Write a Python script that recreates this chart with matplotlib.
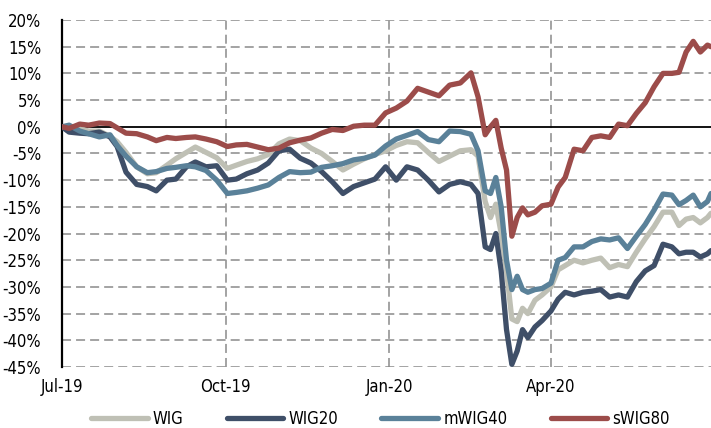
import pandas as pd
import matplotlib
matplotlib.use('Agg')
import matplotlib.pyplot as plt
import matplotlib.dates as mdates
from matplotlib import font_manager

# Font: narrow face if installed, else DejaVu condensed
names = {f.name for f in font_manager.fontManager.ttflist}
if 'Liberation Sans Narrow' in names:
    plt.rcParams['font.family'] = ['Liberation Sans Narrow', 'DejaVu Sans']
    stretch = 'normal'
else:
    plt.rcParams['font.family'] = ['DejaVu Sans']
    stretch = 'condensed'
plt.rcParams['font.stretch'] = stretch

# Data (cumulative return, %)
dates = pd.to_datetime([
    '2019-07-01', '2019-07-05', '2019-07-11', '2019-07-16', '2019-07-22', '2019-07-28',
    '2019-08-01', '2019-08-06', '2019-08-12', '2019-08-18', '2019-08-23', '2019-08-29',
    '2019-09-03', '2019-09-09', '2019-09-14', '2019-09-20', '2019-09-26', '2019-10-02',
    '2019-10-07', '2019-10-13', '2019-10-19', '2019-10-25', '2019-10-31', '2019-11-06',
    '2019-11-12', '2019-11-18', '2019-11-24', '2019-11-30', '2019-12-06', '2019-12-12',
    '2019-12-18', '2019-12-24', '2019-12-30', '2020-01-05', '2020-01-11', '2020-01-17',
    '2020-01-23', '2020-01-29', '2020-02-04', '2020-02-10', '2020-02-16', '2020-02-20',
    '2020-02-24', '2020-02-27', '2020-03-01', '2020-03-04', '2020-03-07', '2020-03-10',
    '2020-03-13', '2020-03-16', '2020-03-19', '2020-03-23', '2020-03-27', '2020-04-01',
    '2020-04-05', '2020-04-09', '2020-04-14', '2020-04-19', '2020-04-24', '2020-04-29',
    '2020-05-04', '2020-05-09', '2020-05-14', '2020-05-19', '2020-05-24', '2020-05-29',
    '2020-06-03', '2020-06-08', '2020-06-12', '2020-06-16', '2020-06-20', '2020-06-24',
    '2020-06-28', '2020-06-30',
])

wig = [
    0, -0.5, -0.3, -0.8, -0.8, -1.8,
    -2.8, -4.8, -7.5, -8.8, -8.6, -7.2,
    -6.0, -4.8, -3.8, -4.8, -5.8, -7.8,
    -7.2, -6.5, -6.0, -5.2, -3.2, -2.3,
    -2.6, -4.0, -5.0, -6.5, -8.1, -7.0,
    -6.0, -5.2, -4.5, -3.5, -2.8, -3.0,
    -4.8, -6.5, -5.5, -4.5, -4.3, -5.5,
    -14.0, -17.0, -14.5, -20.0, -27.0, -36.0,
    -36.5, -34.0, -35.0, -32.5, -31.5, -30.0,
    -26.8, -26.0, -25.0, -25.5, -25.0, -24.6,
    -26.4, -25.8, -26.2, -23.5, -21.0, -18.7,
    -16.0, -16.0, -18.5, -17.3, -17.0, -18.0,
    -17.0, -16.2,
]

wig20 = [
    0, -1.0, -1.2, -1.3, -1.0, -1.9,
    -3.7, -8.5, -10.8, -11.2, -12.0, -10.0,
    -9.8, -7.5, -6.6, -7.5, -7.3, -10.0,
    -9.8, -8.8, -8.1, -6.8, -4.5, -4.2,
    -5.9, -6.8, -8.4, -10.3, -12.5, -11.2,
    -10.5, -9.8, -7.5, -10.0, -7.5, -8.1,
    -10.0, -12.2, -10.8, -10.3, -10.8, -12.5,
    -22.5, -23.0, -20.0, -27.0, -38.0, -44.5,
    -42.0, -38.0, -39.5, -37.5, -36.3, -34.5,
    -32.3, -31.0, -31.5, -31.0, -30.8, -30.5,
    -31.9, -31.5, -31.9, -29.0, -27.0, -26.0,
    -22.0, -22.5, -23.8, -23.5, -23.5, -24.4,
    -23.8, -23.2,
]

mwig40 = [
    0, 0.3, -0.8, -1.3, -1.9, -1.5,
    -3.5, -5.5, -7.5, -8.6, -8.4, -7.8,
    -7.6, -7.3, -7.5, -8.2, -10.0, -12.5,
    -12.3, -12.0, -11.5, -10.9, -9.5, -8.4,
    -8.6, -8.5, -7.6, -7.3, -6.9, -6.2,
    -5.9, -5.3, -3.6, -2.3, -1.6, -0.9,
    -2.4, -2.8, -0.8, -0.9, -1.4, -4.5,
    -12.0, -12.5, -9.5, -15.0, -25.0, -30.5,
    -28.0, -30.5, -31.0, -30.5, -30.3, -29.3,
    -25.0, -24.5, -22.5, -22.5, -21.5, -21.0,
    -21.2, -20.8, -22.8, -20.5, -18.3, -15.6,
    -12.6, -12.8, -14.6, -13.8, -12.8, -15.0,
    -14.0, -12.5,
]

swig80 = [
    0, -0.3, 0.5, 0.3, 0.7, 0.6,
    -0.2, -1.2, -1.3, -1.9, -2.6, -2.0,
    -2.2, -2.0, -1.9, -2.3, -2.8, -3.7,
    -3.4, -3.3, -3.8, -4.3, -4.0, -3.0,
    -2.5, -2.1, -1.2, -0.5, -0.7, 0.1,
    0.3, 0.3, 2.6, 3.5, 4.8, 7.2,
    6.5, 5.8, 7.8, 8.2, 10.1, 5.6,
    -1.5, 0.0, 1.2, -4.0, -8.1, -20.5,
    -17.0, -15.2, -16.5, -16.0, -14.8, -14.5,
    -11.3, -9.5, -4.2, -4.5, -2.0, -1.7,
    -2.0, 0.5, 0.2, 2.5, 4.5, 7.5,
    10.0, 10.0, 10.2, 14.0, 16.0, 14.0,
    15.3, 15.0,
]

series = ['WIG', 'WIG20', 'mWIG40', 'sWIG80']
values = [wig, wig20, mwig40, swig80]
colors = ['#bfc0b5', '#3f4f68', '#5a8199', '#9c4c4a']

fig = plt.figure(figsize=(7.11, 4.28), dpi=100)
ax = fig.add_axes([62 / 711, 1 - 367 / 428, 1 - 62 / 711, 347 / 428])

grid_style = dict(color='#8a8a8a', lw=1.1, linestyle=(0, (5.9, 3.3)))
for yv in range(-45, 25, 5):
    if yv != 0:
        ax.axhline(yv, zorder=1, **grid_style)
for m in ['2019-10-01', '2020-01-01', '2020-04-01']:
    ax.axvline(pd.Timestamp(m), zorder=1, **grid_style)
ax.axhline(0, color='black', lw=1.3, zorder=2)

for name, vals, col in zip(series, values, colors):
    ax.plot(dates, vals, color=col, lw=3.8, label=name, zorder=3,
            solid_joinstyle='round', solid_capstyle='round')

ax.set_ylim(-45, 20)
ax.set_xlim(pd.Timestamp('2019-07-01'), pd.Timestamp('2020-06-30'))
ax.set_yticks(range(-45, 25, 5))
ax.set_yticklabels([f'{v}%' for v in range(-45, 25, 5)])
ax.set_xticks(pd.to_datetime(['2019-07-01', '2019-10-01', '2020-01-01', '2020-04-01']))
ax.xaxis.set_major_formatter(mdates.DateFormatter('%b-%y'))

for s in ['top', 'right', 'bottom']:
    ax.spines[s].set_visible(False)
ax.spines['left'].set_linewidth(1.6)
ax.spines['left'].set_color('black')
ax.tick_params(axis='both', length=0, labelsize=12)
ax.tick_params(axis='y', pad=15)
ax.tick_params(axis='x', pad=8)

fig.legend(loc='lower center', bbox_to_anchor=(0.535, -0.035), ncol=4, frameon=False,
           fontsize=12, handlelength=3.4, handletextpad=0.3, columnspacing=2.6)

fig.savefig('out.png', dpi=100)
